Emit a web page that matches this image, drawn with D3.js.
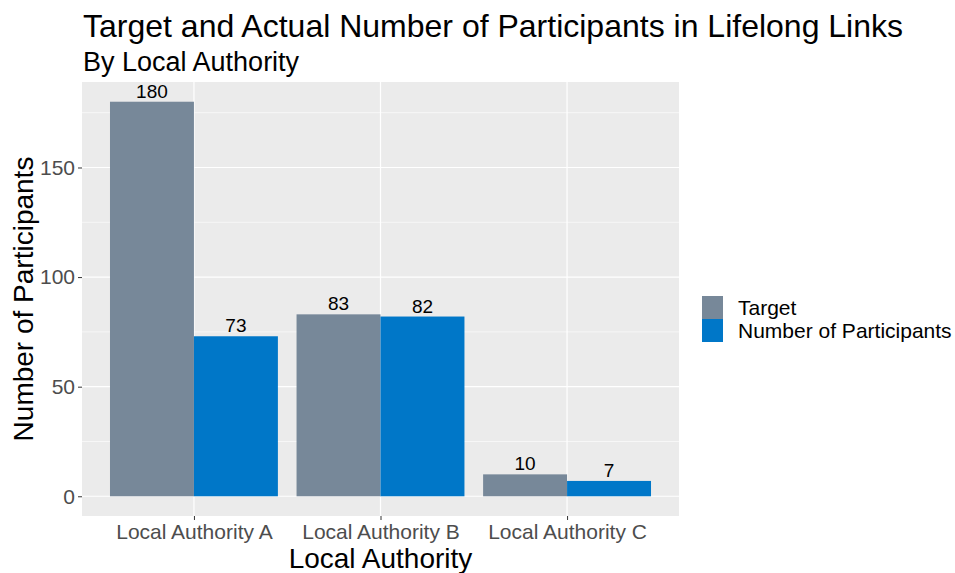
<!DOCTYPE html>
<html>
<head>
<meta charset="utf-8">
<script src="https://cdn.jsdelivr.net/npm/d3@7"></script>
<style>
body { margin: 0; background: #fff; }
svg { font-family: "Liberation Sans", Arial, sans-serif; }
</style>
</head>
<body>
<svg id="chart" width="955" height="573"></svg>
<script>
// chart data
var authorities = ["Local Authority A", "Local Authority B", "Local Authority C"]
var seriesNames = ["Target", "Number of Participants"]
var targetValues = [180, 83, 10]
var participantValues = [73, 82, 7]
var yTicks = [0, 50, 100, 150]
var colours = ["#778899", "#0077c8"]

var margin = {top: 82, left: 82, right: 276, bottom: 57}
var width = 955, height = 573
var svg = d3.select("#chart")

var panelW = width - margin.left - margin.right
var panelH = height - margin.top - margin.bottom

var rows = []
authorities.forEach(function(a, i) {
  rows.push({cat: a, series: seriesNames[0], value: targetValues[i]})
  rows.push({cat: a, series: seriesNames[1], value: participantValues[i]})
})

// ggplot style discrete axis: 0.6 expansion each side, bar width 0.9
var unit = panelW / (authorities.length - 1 + 1.2)
var xCenter = d3.scalePoint().domain(authorities).range([0.6 * unit, panelW - 0.6 * unit])
var xSub = d3.scaleBand().domain(seriesNames).range([-0.45 * unit, 0.45 * unit])

var maxV = d3.max(rows, d => d.value)
var y = d3.scaleLinear().domain([-maxV * 0.05, maxV * 1.05]).range([panelH, 0])

var colour = d3.scaleOrdinal().domain(seriesNames).range(colours)

var g = svg.append("g").attr("transform", "translate(" + margin.left + "," + margin.top + ")")

g.append("rect").attr("width", panelW).attr("height", panelH).attr("fill", "#ebebeb")

// minor grid
var minor = [25, 75, 125, 175]
g.selectAll(".minor").data(minor).enter().append("line")
  .attr("x1", 0).attr("x2", panelW)
  .attr("y1", d => y(d)).attr("y2", d => y(d))
  .attr("stroke", "#fff").attr("stroke-width", 0.6)

g.selectAll(".major").data(yTicks).enter().append("line")
  .attr("x1", 0).attr("x2", panelW)
  .attr("y1", d => y(d)).attr("y2", d => y(d))
  .attr("stroke", "#fff").attr("stroke-width", 1.2)

g.selectAll(".vgrid").data(authorities).enter().append("line")
  .attr("x1", d => xCenter(d)).attr("x2", d => xCenter(d))
  .attr("y1", 0).attr("y2", panelH)
  .attr("stroke", "#fff").attr("stroke-width", 1.2)

// bars
g.selectAll(".bar").data(rows).enter().append("rect")
  .attr("x", d => xCenter(d.cat) + xSub(d.series))
  .attr("width", xSub.bandwidth())
  .attr("y", d => y(d.value))
  .attr("height", d => y(0) - y(d.value))
  .attr("fill", d => colour(d.series))

// value labels
g.selectAll(".lbl").data(rows).enter().append("text")
  .attr("x", d => xCenter(d.cat) + xSub(d.series) + xSub.bandwidth() / 2)
  .attr("y", d => y(d.value) - 4)
  .attr("text-anchor", "middle")
  .attr("font-size", 19)
  .attr("fill", "#000")
  .text(d => d.value)

// axes
var yAxis = g.append("g").call(d3.axisLeft(y).tickValues(yTicks).tickSize(4).tickPadding(3))
yAxis.select(".domain").remove()
yAxis.selectAll("line").attr("stroke", "#333")
yAxis.selectAll("text").attr("font-size", 21).attr("fill", "#4d4d4d").attr("font-family", "Liberation Sans, Arial, sans-serif")

var xAxis = g.append("g").attr("transform", "translate(0," + panelH + ")")
  .call(d3.axisBottom(xCenter).tickSize(4).tickPadding(4))
xAxis.select(".domain").remove()
xAxis.selectAll("line").attr("stroke", "#333")
xAxis.selectAll("text").attr("font-size", 21).attr("fill", "#4d4d4d").attr("font-family", "Liberation Sans, Arial, sans-serif")

// titles
svg.append("text").attr("x", 83).attr("y", 37).attr("font-size", 32).attr("fill", "#000")
  .text("Target and Actual Number of Participants in Lifelong Links")
svg.append("text").attr("x", 83).attr("y", 71).attr("font-size", 27).attr("fill", "#000")
  .text("By Local Authority")

svg.append("text").attr("x", margin.left + panelW / 2).attr("y", 568)
  .attr("text-anchor", "middle").attr("font-size", 28).text("Local Authority")

svg.append("text")
  .attr("transform", "translate(33," + (margin.top + panelH / 2) + ") rotate(-90)")
  .attr("text-anchor", "middle").attr("font-size", 28).text("Number of Participants")

// legend
var legend = svg.append("g").attr("transform", "translate(702,296)")
seriesNames.forEach(function(s, i) {
  legend.append("rect").attr("x", 0).attr("y", i * 23).attr("width", 21).attr("height", 23)
    .attr("fill", colour(s))
  legend.append("text").attr("x", 36).attr("y", i * 23 + 11.5).attr("dy", "0.35em")
    .attr("font-size", 21).text(s)
})
</script>
</body>
</html>
